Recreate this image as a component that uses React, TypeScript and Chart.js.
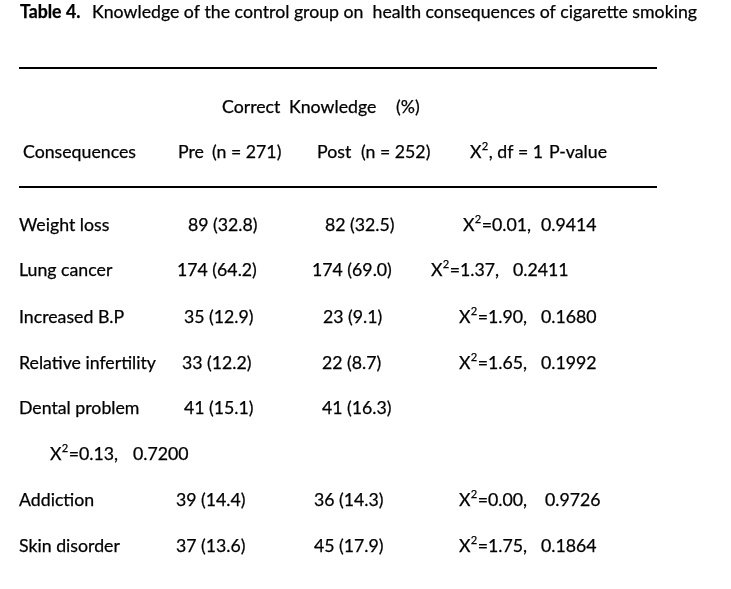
import React, { useEffect, useRef } from 'react';
import { Chart, registerables } from 'chart.js';

Chart.register(...registerables);

// ---------- content ----------
const titleBold = 'Table 4.';
const titleText = 'Knowledge of the control group on  health consequences of cigarette smoking';
const groupHeaderWords = ['Correct', 'Knowledge', '(%)'];
const columnHeaderWords = ['Consequences', 'Pre', '(n = 271)', 'Post', '(n = 252)'];
const statHeaderWords = [', df = 1', 'P-value'];

const consequences = [
  'Weight loss',
  'Lung cancer',
  'Increased B.P',
  'Relative infertility',
  'Dental problem',
  'Addiction',
  'Skin disorder',
];
const preCounts = [89, 174, 35, 33, 41, 39, 37];
const prePercent = [32.8, 64.2, 12.9, 12.2, 15.1, 14.4, 13.6];
const postCounts = [82, 174, 23, 22, 41, 36, 45];
const postPercent = [32.5, 69.0, 9.1, 8.7, 16.3, 14.3, 17.9];
const chiSquare = [0.01, 1.37, 1.9, 1.65, 0.13, 0.0, 1.75];
const pValues = [0.9414, 0.2411, 0.168, 0.1992, 0.72, 0.9726, 0.1864];

// ---------- layout (page units) ----------
const PAGE_W = 731;
const PAGE_H = 589;
const rowBaseline = [231, 276, 323, 369, 414, 506, 552];
const statBaseline = [231, 276, 323, 369, 460, 506, 552];
const labelX = [19, 19, 19, 19, 19, 19, 19];
const preX = [188, 177, 184, 182, 184, 176, 176];
const postX = [325, 312, 323, 322, 322, 314, 314];
const chiX = [463, 431, 459, 459, 50, 459, 459];
const pX = [541, 513, 541, 541, 133, 545, 541];
const groupHeaderX = [222, 289, 396];
const groupHeaderY = 113;
const columnHeaderX = [23, 178, 212, 317, 361];
const statHeaderX = [470, 549];
const headerY = 158;
const titleBoldX = 20;
const titleTextX = 92;
const titleY = 18;
const ruleY = [68, 187];
const ruleX = [19, 657];

const FONT_FAMILY = 'Lato, "Open Sans", sans-serif';
const BODY_SIZE = 17.5;
const TITLE_SIZE = 18;
const SUP_SIZE = 11;
const SUP_RISE = 8.5;
const TARGET_BODY_W = 137; // width of "Relative infertility"
const TARGET_TITLE_W = 605; // width of title body text

const tablePlugin = {
  id: 'tableText',
  beforeDraw(chart: any) {
    const { ctx } = chart;
    ctx.save();
    ctx.fillStyle = '#ffffff';
    ctx.fillRect(0, 0, chart.width, chart.height);
    ctx.restore();
  },
  afterDatasetsDraw(chart: any) {
    const { ctx } = chart;
    const xs = chart.scales.x;
    const ys = chart.scales.y;
    const body = `${BODY_SIZE}px ${FONT_FAMILY}`;
    const titleFont = `${TITLE_SIZE}px ${FONT_FAMILY}`;
    const sup = `${SUP_SIZE}px ${FONT_FAMILY}`;

    ctx.save();
    ctx.font = body;
    const fBody = TARGET_BODY_W / ctx.measureText('Relative infertility').width;
    ctx.font = titleFont;
    const fTitle = TARGET_TITLE_W / ctx.measureText(titleText).width;
    ctx.restore();

    const draw = (text: string, x: number, y: number, font: string, f: number) => {
      ctx.save();
      ctx.font = font;
      ctx.fillStyle = '#000000';
      ctx.strokeStyle = '#000000';
      ctx.lineWidth = 0.25;
      ctx.textBaseline = 'alphabetic';
      ctx.textAlign = 'left';
      ctx.translate(x, y);
      ctx.scale(f, 1);
      ctx.fillText(text, 0, 0);
      ctx.strokeText(text, 0, 0);
      const w = ctx.measureText(text).width * f;
      ctx.restore();
      return w;
    };
    const drawX2 = (x: number, y: number) => {
      let cx = x;
      cx += draw('X', cx, y, body, fBody);
      cx += 0.3;
      cx += draw('2', cx, y - SUP_RISE, sup, fBody);
      return cx + 0.5;
    };

    // title
    draw(titleBold, xs.getPixelForValue(titleBoldX), ys.getPixelForValue(titleY), `bold ${TITLE_SIZE}px ${FONT_FAMILY}`, fTitle);
    draw(titleText, xs.getPixelForValue(titleTextX), ys.getPixelForValue(titleY), titleFont, fTitle);

    // rules
    ctx.save();
    ctx.strokeStyle = '#000000';
    ctx.lineWidth = 2;
    ruleY.forEach((ry) => {
      ctx.beginPath();
      ctx.moveTo(xs.getPixelForValue(ruleX[0]), ys.getPixelForValue(ry));
      ctx.lineTo(xs.getPixelForValue(ruleX[1]), ys.getPixelForValue(ry));
      ctx.stroke();
    });
    ctx.restore();

    // headers
    groupHeaderWords.forEach((w, i) =>
      draw(w, xs.getPixelForValue(groupHeaderX[i]), ys.getPixelForValue(groupHeaderY), body, fBody)
    );
    columnHeaderWords.forEach((w, i) =>
      draw(w, xs.getPixelForValue(columnHeaderX[i]), ys.getPixelForValue(headerY), body, fBody)
    );
    {
      const hy = ys.getPixelForValue(headerY);
      const cx = drawX2(xs.getPixelForValue(statHeaderX[0]), hy);
      draw(statHeaderWords[0], cx, hy, body, fBody);
      draw(statHeaderWords[1], xs.getPixelForValue(statHeaderX[1]), hy, body, fBody);
    }

    // body cells from dataset elements
    const metaLabel = chart.getDatasetMeta(0).data;
    const metaPre = chart.getDatasetMeta(1).data;
    const metaPost = chart.getDatasetMeta(2).data;
    const metaChi = chart.getDatasetMeta(3).data;
    const metaP = chart.getDatasetMeta(4).data;
    consequences.forEach((name, i) => {
      draw(name, metaLabel[i].x, metaLabel[i].y, body, fBody);
      draw(`${preCounts[i]} (${prePercent[i].toFixed(1)})`, metaPre[i].x, metaPre[i].y, body, fBody);
      draw(`${postCounts[i]} (${postPercent[i].toFixed(1)})`, metaPost[i].x, metaPost[i].y, body, fBody);
      const cx = drawX2(metaChi[i].x, metaChi[i].y);
      draw(`=${chiSquare[i].toFixed(2)},`, cx, metaChi[i].y, body, fBody);
      draw(pValues[i].toFixed(4), metaP[i].x, metaP[i].y, body, fBody);
    });
  },
};

export default function App() {
  const canvasRef = useRef<HTMLCanvasElement | null>(null);

  useEffect(() => {
    if (!canvasRef.current) return;
    const pts = (xs: number[], ys: number[]) => consequences.map((_, i) => ({ x: xs[i], y: ys[i] }));
    const hidden = { pointRadius: 0, pointHoverRadius: 0, showLine: false };
    const chart = new Chart(canvasRef.current, {
      type: 'scatter',
      data: {
        datasets: [
          { label: 'Consequences', data: pts(labelX, rowBaseline), ...hidden },
          { label: 'Pre', data: pts(preX, rowBaseline), ...hidden },
          { label: 'Post', data: pts(postX, rowBaseline), ...hidden },
          { label: 'X2', data: pts(chiX, statBaseline), ...hidden },
          { label: 'P-value', data: pts(pX, statBaseline), ...hidden },
        ],
      },
      options: {
        responsive: false,
        animation: false,
        events: [],
        layout: { padding: 0 },
        plugins: { legend: { display: false }, tooltip: { enabled: false } },
        scales: {
          x: { type: 'linear', min: 0, max: PAGE_W, display: false },
          y: { type: 'linear', min: 0, max: PAGE_H, reverse: true, display: false },
        },
      },
      plugins: [tablePlugin],
    });
    return () => chart.destroy();
  }, []);

  return (
    <div style={{ position: 'fixed', left: 0, top: 0, width: PAGE_W, height: PAGE_H, background: '#fff' }}>
      <canvas ref={canvasRef} width={PAGE_W} height={PAGE_H} style={{ display: 'block' }} />
    </div>
  );
}
